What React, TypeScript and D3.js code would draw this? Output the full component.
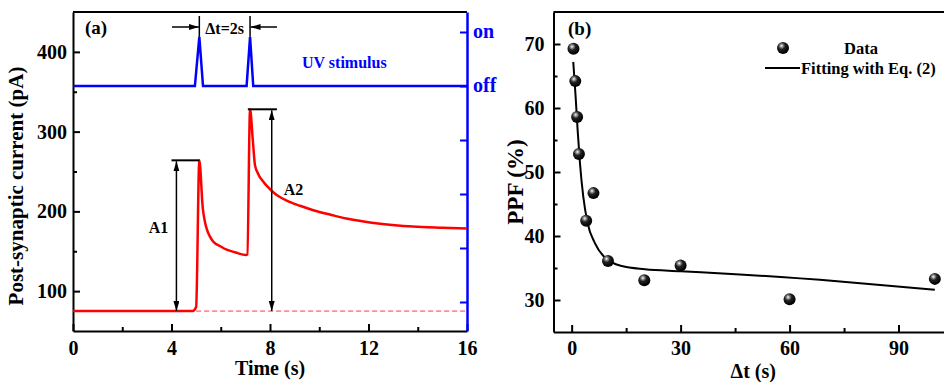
import React, { useEffect, useRef } from "react";
import * as d3 from "d3";

// (a) post-synaptic current trace
const traceTime = [0, 4.86, 5.0, 5.13, 5.27, 5.35, 5.43, 5.55, 5.7, 6.0, 6.24, 6.6, 7.03, 7.08, 7.19, 7.3, 7.39, 7.52, 7.73, 7.9, 8.13, 8.4, 8.68, 9.22, 9.76, 10.5, 11.1, 12.47, 13.8, 15, 16];
const traceCurrent = [75, 75, 80, 264, 204, 188, 178, 169, 162, 156, 152, 148.5, 145.3, 146, 328, 290, 258, 247, 237, 231, 224, 218, 213.5, 207, 201.5, 195.5, 191, 184.5, 181, 179.5, 178.5];
const baseCurrent = 75;

// (a) UV stimulus pulses (0 = off, 1 = on)
const uvTime = [0, 4.95, 5.13, 5.28, 7.05, 7.19, 7.32, 16];
const uvLevel = [0, 0, 0.91, 0, 0, 0.91, 0, 0];

const timeTicks = [0, 4, 8, 12, 16];
const timeMinor = [2, 6, 10, 14];
const currentTicks = [100, 200, 300, 400];
const currentMinor = [150, 250, 350];

// (b) PPF vs interval
const ppfDt = [0.5, 1, 1.5, 2, 4, 6, 10, 20, 30, 60, 100];
const ppfValue = [69.25, 64.2, 58.6, 52.8, 42.4, 46.7, 36.1, 33.1, 35.4, 30.1, 33.3];
// fitted curve
const fitDt = [0.44, 1.1, 1.65, 2.28, 3.19, 4.4, 6.4, 9.2, 13.8, 20.2, 30, 46.3, 73.9, 100];
const fitValue = [67.2, 61.7, 56.5, 51.4, 46.2, 42.0, 38.9, 36.6, 35.3, 34.8, 34.5, 34.0, 32.9, 31.6];

const dtTicks = [0, 30, 60, 90];
const dtMinor = [15, 45, 75];
const ppfTicks = [30, 40, 50, 60, 70];
const ppfMinor = [35, 45, 55, 65];

const FONT = "'Liberation Serif', 'Times New Roman', serif";

const App = () => {
  const ref = useRef(null);

  useEffect(() => {
    const svg = d3.select(ref.current);
    svg.selectAll("*").remove();

    const defs = svg.append("defs");
    defs
      .append("marker")
      .attr("id", "arr")
      .attr("markerUnits", "userSpaceOnUse")
      .attr("markerWidth", 11)
      .attr("markerHeight", 7)
      .attr("refX", 10)
      .attr("refY", 3)
      .attr("orient", "auto-start-reverse")
      .append("path")
      .attr("d", "M0,0 L10,3 L0,6 Z")
      .attr("fill", "#000");

    const grad = defs
      .append("radialGradient")
      .attr("id", "sphere")
      .attr("cx", "38%")
      .attr("cy", "32%")
      .attr("r", "65%");
    grad.append("stop").attr("offset", "0%").attr("stop-color", "#fff");
    grad.append("stop").attr("offset", "18%").attr("stop-color", "#9a9a9a");
    grad.append("stop").attr("offset", "45%").attr("stop-color", "#222");
    grad.append("stop").attr("offset", "100%").attr("stop-color", "#000");

    const styleAxis = (g, color = "#000") => {
      g.select(".domain").attr("stroke", color).attr("stroke-width", 2);
      g.selectAll(".tick line").attr("stroke", color).attr("stroke-width", 2);
      g.selectAll(".tick text")
        .attr("fill", color)
        .attr("font-family", FONT)
        .attr("font-weight", "bold")
        .attr("font-size", 20);
    };
    const minorAxis = (g) => {
      g.select(".domain").remove();
      g.selectAll(".tick line").attr("stroke", "#000").attr("stroke-width", 2);
    };

    // ---------- panel (a) ----------
    const xA = d3.scaleLinear().domain([0, 16]).range([73, 467]);
    const yA = d3.scaleLinear().domain([50, 450]).range([331, 12]);
    // right axis: off at 86 px, on at 32 px, unlabeled ticks continue downward
    const uvStep = 54;
    const yUV = d3
      .scaleLinear()
      .domain([-(331 - 86) / uvStep, (86 - 12) / uvStep])
      .range([331, 12]);

    const a = svg.append("g");

    a.append("line")
      .attr("x1", 73).attr("x2", 467).attr("y1", 12).attr("y2", 12)
      .attr("stroke", "#000").attr("stroke-width", 2);

    a.append("g").attr("transform", "translate(0,331)")
      .call(d3.axisBottom(xA).tickValues(timeMinor).tickSize(-4).tickFormat(() => ""))
      .call(minorAxis);
    a.append("g").attr("transform", "translate(0,331)")
      .call(d3.axisBottom(xA).tickValues(timeTicks).tickSizeInner(-7).tickSizeOuter(0).tickPadding(10))
      .call(styleAxis);

    a.append("g").attr("transform", "translate(73,0)")
      .call(d3.axisLeft(yA).tickValues(currentMinor).tickSize(-4).tickFormat(() => ""))
      .call(minorAxis);
    a.append("g").attr("transform", "translate(73,0)")
      .call(d3.axisLeft(yA).tickValues(currentTicks).tickSizeInner(-7).tickSizeOuter(0).tickPadding(6))
      .call(styleAxis);

    const right = a.append("g").attr("transform", "translate(467,0)")
      .call(
        d3.axisRight(yUV)
          .tickValues([1, 0, -1, -2, -3, -4])
          .tickSizeInner(-7)
          .tickSizeOuter(0)
          .tickPadding(6)
          .tickFormat((d) => (d === 1 ? "on" : d === 0 ? "off" : ""))
      )
      .call((g) => styleAxis(g, "#0000ff"));
    right.select(".domain").attr("stroke-width", 2.5);
    right.selectAll(".tick text").attr("dy", "0.26em");

    // UV stimulus
    a.append("path")
      .datum(uvTime.map((t, i) => [t, uvLevel[i]]))
      .attr("d", d3.line().x((d) => xA(d[0])).y((d) => yUV(d[1])))
      .attr("fill", "none")
      .attr("stroke", "#0000ff")
      .attr("stroke-width", 2.5);

    a.append("text")
      .attr("x", 302).attr("y", 68)
      .attr("fill", "#0000ff")
      .attr("font-family", FONT).attr("font-weight", "bold").attr("font-size", 16)
      .text("UV stimulus");

    // baseline (dashed)
    a.append("line")
      .attr("x1", xA(5.0)).attr("x2", xA(16))
      .attr("y1", yA(baseCurrent)).attr("y2", yA(baseCurrent))
      .attr("stroke", "#ff3b3b").attr("stroke-width", 1).attr("stroke-dasharray", "5,3");

    // current trace
    a.append("path")
      .datum(traceTime.map((t, i) => [t, traceCurrent[i]]))
      .attr("d", d3.line().x((d) => xA(d[0])).y((d) => yA(d[1])).curve(d3.curveMonotoneX))
      .attr("fill", "none")
      .attr("stroke", "#ff0000")
      .attr("stroke-width", 2.5);

    // A1 / A2 amplitude markers
    const amp = [
      { label: "A1", peak: 264, x0: 4.0, x1: 5.13, ax: 4.2, tx: xA(4.2) - 18, ty: 233, anchor: "middle" },
      { label: "A2", peak: 328, x0: 7.1, x1: 8.28, ax: 8.07, tx: xA(8.07) + 12, ty: 195, anchor: "start" },
    ];
    amp.forEach((m) => {
      a.append("line")
        .attr("x1", xA(m.x0)).attr("x2", xA(m.x1))
        .attr("y1", yA(m.peak)).attr("y2", yA(m.peak))
        .attr("stroke", "#000").attr("stroke-width", 2);
      a.append("line")
        .attr("x1", xA(m.ax)).attr("x2", xA(m.ax))
        .attr("y1", yA(m.peak) + 1).attr("y2", yA(baseCurrent))
        .attr("stroke", "#000").attr("stroke-width", 1.5)
        .attr("marker-start", "url(#arr)").attr("marker-end", "url(#arr)");
      a.append("text")
        .attr("x", m.tx).attr("y", m.ty)
        .attr("text-anchor", m.anchor)
        .attr("font-family", FONT).attr("font-weight", "bold").attr("font-size", 16)
        .text(m.label);
    });

    // Δt marker
    [5.13, 7.19].forEach((t) => {
      a.append("line")
        .attr("x1", xA(t)).attr("x2", xA(t))
        .attr("y1", 16).attr("y2", yUV(0.91))
        .attr("stroke", "#000").attr("stroke-width", 1.5);
    });
    a.append("line")
      .attr("x1", 172).attr("x2", xA(5.13) - 0.5).attr("y1", 27).attr("y2", 27)
      .attr("stroke", "#000").attr("stroke-width", 1.5).attr("marker-end", "url(#arr)");
    a.append("line")
      .attr("x1", 277).attr("x2", xA(7.19) + 0.5).attr("y1", 27).attr("y2", 27)
      .attr("stroke", "#000").attr("stroke-width", 1.5).attr("marker-end", "url(#arr)");
    a.append("text")
      .attr("x", (xA(5.13) + xA(7.19)) / 2).attr("y", 34)
      .attr("text-anchor", "middle")
      .attr("font-family", FONT).attr("font-weight", "bold").attr("font-size", 16)
      .text("Δt=2s");

    a.append("text")
      .attr("x", 85).attr("y", 34)
      .attr("font-family", FONT).attr("font-weight", "bold").attr("font-size", 19)
      .text("(a)");

    a.append("text")
      .attr("x", xA(8)).attr("y", 375)
      .attr("text-anchor", "middle")
      .attr("font-family", FONT).attr("font-weight", "bold").attr("font-size", 20)
      .text("Time (s)");

    a.append("text")
      .attr("transform", "translate(23,186) rotate(-90)")
      .attr("text-anchor", "middle")
      .attr("font-family", FONT).attr("font-weight", "bold").attr("font-size", 21)
      .text("Post-synaptic current (pA)");

    // ---------- panel (b) ----------
    const xB = d3.scaleLinear().domain([-5, 105]).range([553.5, 953]);
    const yB = d3.scaleLinear().domain([25, 75]).range([332, 12]);

    const b = svg.append("g");

    b.append("line")
      .attr("x1", 553.5).attr("x2", 953).attr("y1", 12).attr("y2", 12)
      .attr("stroke", "#000").attr("stroke-width", 2);

    b.append("g").attr("transform", "translate(0,332)")
      .call(d3.axisBottom(xB).tickValues(dtMinor).tickSize(-4).tickFormat(() => ""))
      .call(minorAxis);
    b.append("g").attr("transform", "translate(0,332)")
      .call(d3.axisBottom(xB).tickValues(dtTicks).tickSizeInner(-7).tickSizeOuter(0).tickPadding(9))
      .call(styleAxis);

    b.append("g").attr("transform", "translate(553.5,0)")
      .call(d3.axisLeft(yB).tickValues(ppfMinor).tickSize(-4).tickFormat(() => ""))
      .call(minorAxis);
    b.append("g").attr("transform", "translate(553.5,0)")
      .call(d3.axisLeft(yB).tickValues(ppfTicks).tickSizeInner(-7).tickSizeOuter(0).tickPadding(9))
      .call(styleAxis);

    b.append("path")
      .datum(fitDt.map((t, i) => [t, fitValue[i]]))
      .attr("d", d3.line().x((d) => xB(d[0])).y((d) => yB(d[1])).curve(d3.curveMonotoneX))
      .attr("fill", "none")
      .attr("stroke", "#000")
      .attr("stroke-width", 2);

    b.append("g")
      .selectAll("circle")
      .data(ppfDt.map((t, i) => [t, ppfValue[i]]))
      .join("circle")
      .attr("cx", (d) => xB(d[0]))
      .attr("cy", (d) => yB(d[1]))
      .attr("r", 6)
      .attr("fill", "url(#sphere)");

    // legend
    const lg = b.append("g").attr("font-family", FONT).attr("font-weight", "bold").attr("font-size", 16.5);
    lg.append("circle").attr("cx", 783).attr("cy", 48).attr("r", 6).attr("fill", "url(#sphere)");
    lg.append("text").attr("x", 861).attr("y", 54).attr("text-anchor", "middle").text("Data");
    lg.append("line")
      .attr("x1", 765).attr("x2", 800).attr("y1", 68).attr("y2", 68)
      .attr("stroke", "#000").attr("stroke-width", 2);
    lg.append("text").attr("x", 801).attr("y", 74).text("Fitting with Eq. (2)");

    b.append("text")
      .attr("x", 568).attr("y", 35)
      .attr("font-family", FONT).attr("font-weight", "bold").attr("font-size", 19)
      .text("(b)");

    b.append("text")
      .attr("x", xB(50)).attr("y", 378)
      .attr("text-anchor", "middle")
      .attr("font-family", FONT).attr("font-weight", "bold").attr("font-size", 20)
      .text("Δt (s)");

    b.append("text")
      .attr("transform", "translate(523,182) rotate(-90)")
      .attr("text-anchor", "middle")
      .attr("font-family", FONT).attr("font-weight", "bold").attr("font-size", 23)
      .text("PPF (%)");
  }, []);

  return (
    <svg
      ref={ref}
      width={944}
      height={382}
      style={{ position: "absolute", left: 0, top: 0, background: "#fff" }}
    />
  );
};

export default App;
